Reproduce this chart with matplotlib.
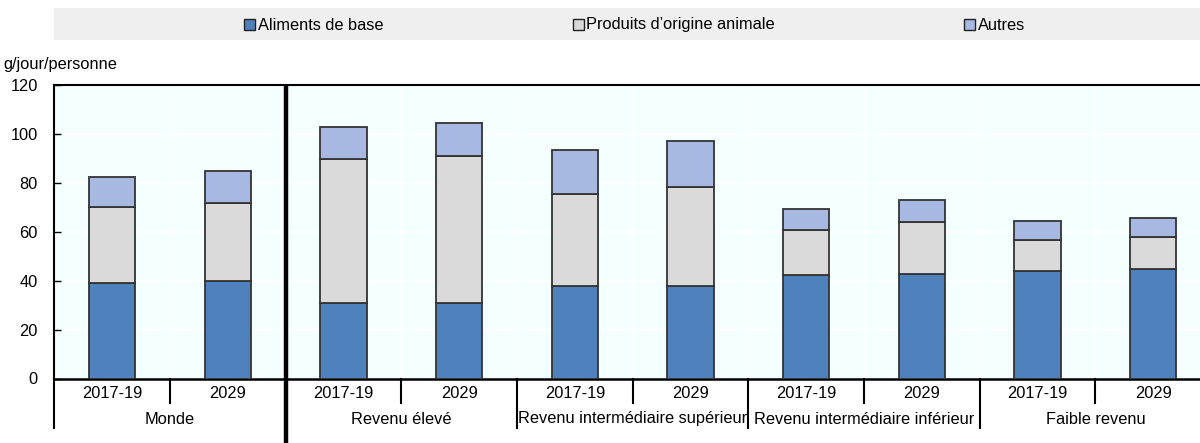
import matplotlib
matplotlib.use("Agg")
import matplotlib.pyplot as plt
from matplotlib.patches import Rectangle
from matplotlib.transforms import blended_transform_factory

plt.rcParams['font.family'] = ['Liberation Sans', 'DejaVu Sans']

# Consumption per person (g/day) by income group and period
groups = ["Monde", "Revenu élevé", "Revenu intermédiaire supérieur",
          "Revenu intermédiaire inférieur", "Faible revenu"]
periods = ["2017-19", "2029"]
staples = [38.9, 39.7, 30.9, 30.8, 37.8, 38.0, 42.5, 42.9, 43.9, 44.7]
animal = [31.1, 32.1, 58.7, 60.1, 37.6, 40.3, 18.1, 20.9, 12.9, 13.1]
others = [12.5, 12.9, 13.2, 13.5, 18.0, 18.8, 8.5, 9.3, 7.5, 7.7]
series_names = ["Aliments de base", "Produits d’origine animale", "Autres"]
colors = ["#4F81BD", "#DADADA", "#A7B9E3"]
y_label = "g/jour/personne"
y_ticks = [0, 20, 40, 60, 80, 100, 120]

W, H = 1200, 443
FS = 11.8
fig = plt.figure(figsize=(W / 100, H / 100), dpi=100)

def fx(px):
    return px / W

def fy(py):
    return 1 - py / H

left, right, top, bottom = 54.3, 1211.0, 85.0, 378.5
ax = fig.add_axes([fx(left), fy(bottom), fx(right - left), (bottom - top) / H])
ax.set_facecolor("#F4FFFF")

n = len(staples)
xs = [i + 0.5 for i in range(n)]
bw = 0.40
edge = "#333333"
bottoms = [0.0] * n
for vals, col in zip([staples, animal, others], colors):
    ax.bar(xs, vals, bw, bottom=bottoms, color=col, edgecolor=edge,
           linewidth=1.3, zorder=3)
    bottoms = [b + v for b, v in zip(bottoms, vals)]

ax.set_xlim(0, n)
ax.set_ylim(0, 120)
ax.set_yticks(y_ticks)
ax.set_yticklabels([str(t) for t in y_ticks], fontsize=FS)
ax.tick_params(axis='y', direction='in', length=5, width=1, pad=12)
ax.set_xticks([])

# white grid
for t in y_ticks[1:-1]:
    ax.axhline(t, color="white", lw=1.2, zorder=1)
for i in range(1, n):
    ax.axvline(i, color="white", lw=1.2, zorder=1)

for s in ["top", "left", "bottom"]:
    ax.spines[s].set_color("black")
ax.spines["top"].set_linewidth(1.5)
ax.spines["left"].set_linewidth(1.5)
ax.spines["bottom"].set_linewidth(1.8)
ax.spines["right"].set_visible(False)

# category axis: periods and groups
tr = blended_transform_factory(ax.transData, fig.transFigure)
for i, x in enumerate(xs):
    ax.text(x, fy(394), periods[i % 2], transform=tr, ha='center',
            va='center', fontsize=FS)
for g, name in enumerate(groups):
    ax.text(2 * g + 1, fy(419), name, transform=tr, ha='center',
            va='center', fontsize=FS)

for i in range(1, n):
    if i == 2:
        continue
    y0 = 403 if i % 2 == 1 else 428
    ax.plot([i, i], [fy(bottom), fy(y0)], transform=tr, color="black",
            lw=1.5, clip_on=False, zorder=5)
ax.plot([0, 0], [fy(bottom), fy(428)], transform=tr, color="black",
        lw=1.5, clip_on=False, zorder=5)
# heavy separator between world and income groups
ax.plot([2, 2], [fy(top), fy(443)], transform=tr, color="black",
        lw=3.2, clip_on=False, zorder=6, solid_capstyle='butt')

fig.text(fx(3), fy(65), y_label, ha='left', va='center', fontsize=FS)

# legend band
fig.patches.append(Rectangle((fx(54), fy(40)), fx(1200 - 54), (40 - 8) / H,
                             transform=fig.transFigure, facecolor="#EFEFEF",
                             edgecolor="none", zorder=0))
marker_x = [244.5, 572.5, 964.0]
for mx, name, col in zip(marker_x, series_names, colors):
    fig.patches.append(Rectangle((fx(mx), fy(29.5)), fx(11), 11 / H,
                                 transform=fig.transFigure, facecolor=col,
                                 edgecolor="#222222", lw=1.0, zorder=1))
    fig.text(fx(mx + 14), fy(25), name, ha='left', va='center',
             fontsize=FS)

fig.savefig("out.png", dpi=100)
